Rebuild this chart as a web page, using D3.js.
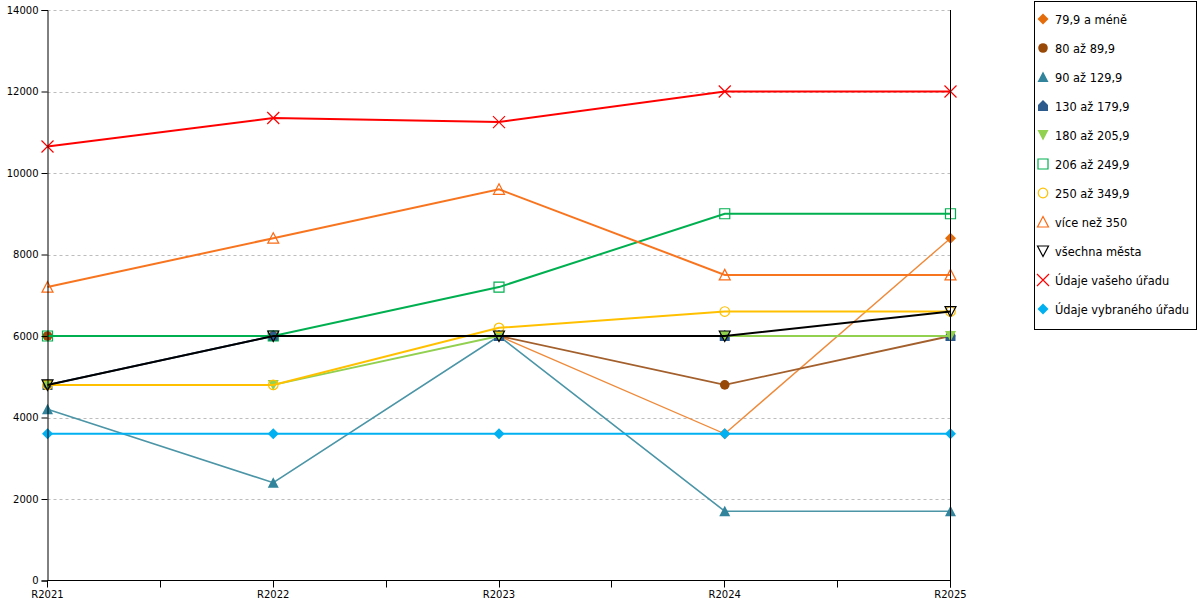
<!DOCTYPE html>
<html>
<head>
<meta charset="utf-8">
<script src="https://cdn.jsdelivr.net/npm/d3@7"></script>
<style>
    body { margin: 0; background: #fff; }
    text { font-family: "DejaVu Sans", sans-serif; font-size: 10px; fill: #000; }
</style>
</head>
<body>
<svg id="chart_svg" width="1200" height="600"></svg>
<script>
// categories and tick labels
const g_years = ["R2021", "R2022", "R2023", "R2024", "R2025"];
const g_y_ticks = [0, 2000, 4000, 6000, 8000, 10000, 12000, 14000];

// series names (legend order = draw order)
const g_names = ["79,9 a méně", "80 až 89,9", "90 až 129,9", "130 až 179,9", "180 až 205,9",
                 "206 až 249,9", "250 až 349,9", "více než 350", "všechna města",
                 "Údaje vašeho úřadu", "Údaje vybraného úřadu"];

// series values
const v_79 = [6000, 6000, 6000, 3600, 8400];
const v_80 = [6000, 6000, 6000, 4800, 6000];
const v_90 = [4200, 2400, 6000, 1700, 1700];
const v_130 = [4800, 6000, 6000, 6000, 6000];
const v_180 = [4800, 4800, 6000, 6000, 6000];
const v_206 = [6000, 6000, 7200, 9000, 9000];
const v_250 = [4800, 4800, 6200, 6600, 6600];
const v_350 = [7200, 8400, 9600, 7500, 7500];
const v_all = [4800, 6000, 6000, 6000, 6600];
const v_yours = [10650, 11350, 11250, 12000, 12000];
const v_selected = [3600, 3600, 3600, 3600, 3600];

const g_values = [v_79, v_80, v_90, v_130, v_180, v_206, v_250, v_350, v_all, v_yours, v_selected];

// look of each series: line colour, line width, marker, marker colour, filled
const g_styles = [
    { line: "#ef8a3a", lw: 1.4, sym: "diamond", col: "#e46c0a", fill: true },
    { line: "#a35f2c", lw: 1.8, sym: "circle", col: "#984807", fill: true },
    { line: "#4b95a7", lw: 1.6, sym: "triangle", col: "#31849b", fill: true },
    { line: "#2f568c", lw: 1.8, sym: "house", col: "#2d5a8c", fill: true },
    { line: "#92d050", lw: 1.8, sym: "tri_down", col: "#92d050", fill: true },
    { line: "#00b050", lw: 2, sym: "square", col: "#00b050", fill: false },
    { line: "#ffc000", lw: 2, sym: "circle", col: "#ffc000", fill: false },
    { line: "#f87520", lw: 2, sym: "triangle", col: "#fb6a15", fill: false },
    { line: "#000000", lw: 2, sym: "tri_down", col: "#000000", fill: false },
    { line: "#ff0000", lw: 2, sym: "cross", col: "#ff0000", fill: false },
    { line: "#00b0f0", lw: 2, sym: "diamond", col: "#00b0f0", fill: true }
];

// marker path around (0,0)
function marker_path(sym) {
    var s = 5;
    switch (sym) {
        case "diamond": return "M0," + (-s - 0.5) + "L" + (s + 0.5) + ",0L0," + (s + 0.5) + "L" + (-s - 0.5) + ",0Z";
        case "circle": return d3.symbol(d3.symbolCircle, 72)();
        case "triangle": return "M0," + (-s - 0.5) + "L" + (s + 0.5) + "," + (s) + "L" + (-s - 0.5) + "," + (s) + "Z";
        case "tri_down": return "M" + (-s - 0.5) + "," + (-s) + "L" + (s + 0.5) + "," + (-s) + "L0," + (s + 0.5) + "Z";
        case "house": return "M0," + (-s - 1) + "L" + s + "," + (-1) + "L" + s + "," + s + "L" + (-s) + "," + s + "L" + (-s) + "," + (-1) + "Z";
        case "square": return "M" + (-s) + "," + (-s) + "H" + s + "V" + s + "H" + (-s) + "Z";
        case "cross": return "M" + (-s - 1) + "," + (-s - 1) + "L" + (s + 1) + "," + (s + 1) + "M" + (s + 1) + "," + (-s - 1) + "L" + (-s - 1) + "," + (s + 1);
    }
}

function style_marker(sel, st) {
    if (st.fill) sel.attr("fill", st.col).attr("stroke", "none");
    else sel.attr("fill", "none").attr("stroke", st.col).attr("stroke-width", st.sym === "cross" ? 1.2 : 1.2);
}

const svg = d3.select("#chart_svg");
const pl = 47.5, pr = 950.5, pt = 10, pb = 580.5;

var x = d3.scalePoint().domain(g_years).range([pl, pr]);
var y = d3.scaleLinear().domain([0, 14000]).range([pb, pt]);

// grid
svg.append("g").selectAll("line").data(g_y_ticks.filter(d => d > 0)).join("line")
    .attr("x1", pl).attr("x2", pr)
    .attr("y1", d => Math.round(y(d)) + 0.5).attr("y2", d => Math.round(y(d)) + 0.5)
    .attr("stroke", "#bdbdbd").attr("stroke-dasharray", "3,3");

// series
var line = d3.line().x((d, i) => x(g_years[i])).y(d => y(d));
g_values.forEach(function (vals, k) {
    var st = g_styles[k];
    var g = svg.append("g").classed("series", true);
    g.append("path").datum(vals).attr("d", line)
        .attr("fill", "none").attr("stroke", st.line).attr("stroke-width", st.lw);
    g.selectAll(".mk").data(vals).join("path").classed("mk", true)
        .attr("transform", (d, i) => "translate(" + x(g_years[i]) + "," + y(d) + ")")
        .attr("d", marker_path(st.sym))
        .call(style_marker, st);
});

// y axis (on top of the series)
svg.append("g").attr("transform", "translate(" + pl + ",0)")
    .call(d3.axisLeft(y).tickValues(g_y_ticks).tickFormat(d3.format("d")).tickSize(6).tickPadding(3))
    .call(g => g.selectAll("text").style("font-size", "10px").style("font-family", "DejaVu Sans"));
// x axis with minor ticks between categories
var step = x.step();
var x_ticks = d3.range(0, g_years.length * 2 - 1).map(i => pl + i * step / 2);
var x_axis = svg.append("g").attr("transform", "translate(0," + pb + ")");
x_axis.append("line").attr("x1", pl).attr("x2", pr).attr("stroke", "#000");
x_axis.selectAll(".xt").data(x_ticks).join("line").classed("xt", true)
    .attr("x1", d => Math.round(d - 0.5) + 0.5).attr("x2", d => Math.round(d - 0.5) + 0.5)
    .attr("y1", 0).attr("y2", 7).attr("stroke", "#000");
x_axis.selectAll(".xl").data(g_years).join("text").classed("xl", true)
    .attr("x", d => x(d)).attr("y", 17).attr("text-anchor", "middle").text(d => d);
svg.selectAll(".domain").attr("stroke", "#000");
svg.selectAll(".tick line").attr("stroke", "#000");

// right border line
svg.append("line").attr("x1", pr).attr("x2", pr).attr("y1", pt).attr("y2", pb + 7).attr("stroke", "#000");

// legend
var lg = svg.append("g");
lg.append("rect").attr("x", 1034.5).attr("y", 1.5).attr("width", 162).attr("height", 328)
    .attr("fill", "#fff").attr("stroke", "#000");
var item = lg.selectAll(".lgi").data(g_names).join("g").classed("lgi", true)
    .attr("transform", (d, i) => "translate(1043," + (19 + i * 29) + ")");
item.append("path").attr("d", (d, i) => marker_path(g_styles[i].sym))
    .each(function (d, i) { d3.select(this).call(style_marker, g_styles[i]); });
item.append("text").attr("x", 12).attr("y", 4.5).style("font-size", "11.4px").text(d => d);
</script>
</body>
</html>
